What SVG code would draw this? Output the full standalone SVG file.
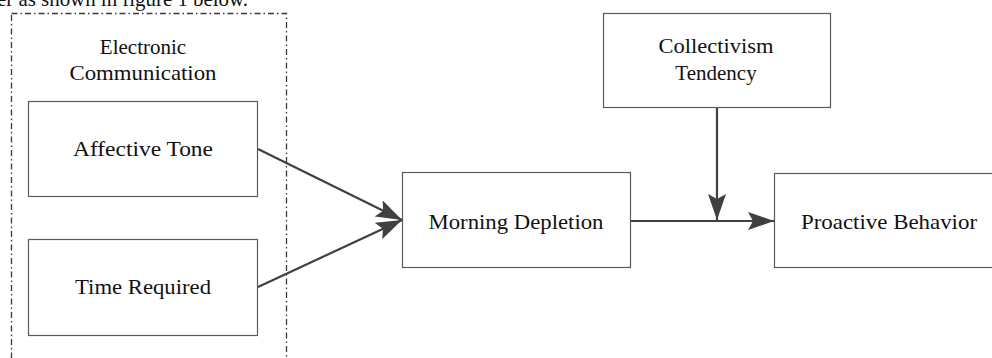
<svg xmlns="http://www.w3.org/2000/svg" width="992" height="358" viewBox="0 0 992 358">
  <style>
    .box { fill: #ffffff; stroke: #5a5a5a; stroke-width: 1.2; }
    .grp { fill: none; stroke: #3a3a3a; stroke-width: 1.3; stroke-dasharray: 6 3 1.5 3; }
    .lbl { font-family: "Liberation Serif", "Times New Roman", serif; font-size: 21px; fill: #111111; text-anchor: middle; }
    .wire { fill: none; stroke: #404040; stroke-width: 2.2; }
  </style>
  <defs>
    <marker id="arrow" markerUnits="userSpaceOnUse" markerWidth="28" markerHeight="18" refX="26" refY="9" orient="auto">
      <path d="M0,0 L26,9 L0,18 L5,9 Z" fill="#404040"/>
    </marker>
  </defs>

  <rect width="992" height="358" fill="#ffffff"/>

  <!-- running text above the figure -->
  <text class="lbl" x="-3" y="6" style="text-anchor:start" textLength="251" lengthAdjust="spacingAndGlyphs">er as shown in figure 1 below.</text>

  <!-- grouping frame for the electronic communication variables -->
  <g id="electronic-communication">
    <rect class="grp" x="11.5" y="13.5" width="275" height="370"/>
    <text class="lbl" x="143" y="54">Electronic</text>
    <text class="lbl" x="143" y="80" textLength="147" lengthAdjust="spacingAndGlyphs">Communication</text>
  </g>

  <g id="affective-tone">
    <rect class="box" x="28.5" y="101.5" width="229" height="95"/>
    <text class="lbl" x="143" y="156" textLength="140" lengthAdjust="spacingAndGlyphs">Affective Tone</text>
  </g>

  <g id="time-required">
    <rect class="box" x="28.5" y="239.5" width="229" height="96"/>
    <text class="lbl" x="143" y="294" textLength="136" lengthAdjust="spacingAndGlyphs">Time Required</text>
  </g>

  <g id="morning-depletion">
    <rect class="box" x="402.5" y="172.5" width="228" height="95"/>
    <text class="lbl" x="516" y="229" textLength="175" lengthAdjust="spacingAndGlyphs">Morning Depletion</text>
  </g>

  <g id="collectivism-tendency">
    <rect class="box" x="603.5" y="13.5" width="227" height="94"/>
    <text class="lbl" x="716" y="53" textLength="115" lengthAdjust="spacingAndGlyphs">Collectivism</text>
    <text class="lbl" x="716" y="80">Tendency</text>
  </g>

  <g id="proactive-behavior">
    <rect class="box" x="774.5" y="173.5" width="230" height="94"/>
    <text class="lbl" x="889" y="229" textLength="176" lengthAdjust="spacingAndGlyphs">Proactive Behavior</text>
  </g>

  <g id="connectors">
    <line class="wire" x1="258" y1="149" x2="402" y2="220" marker-end="url(#arrow)"/>
    <line class="wire" x1="258" y1="287" x2="402" y2="220" marker-end="url(#arrow)"/>
    <line class="wire" x1="631" y1="221" x2="774" y2="221" marker-end="url(#arrow)"/>
    <line class="wire" x1="717" y1="108" x2="717" y2="220" marker-end="url(#arrow)"/>
  </g>
</svg>
